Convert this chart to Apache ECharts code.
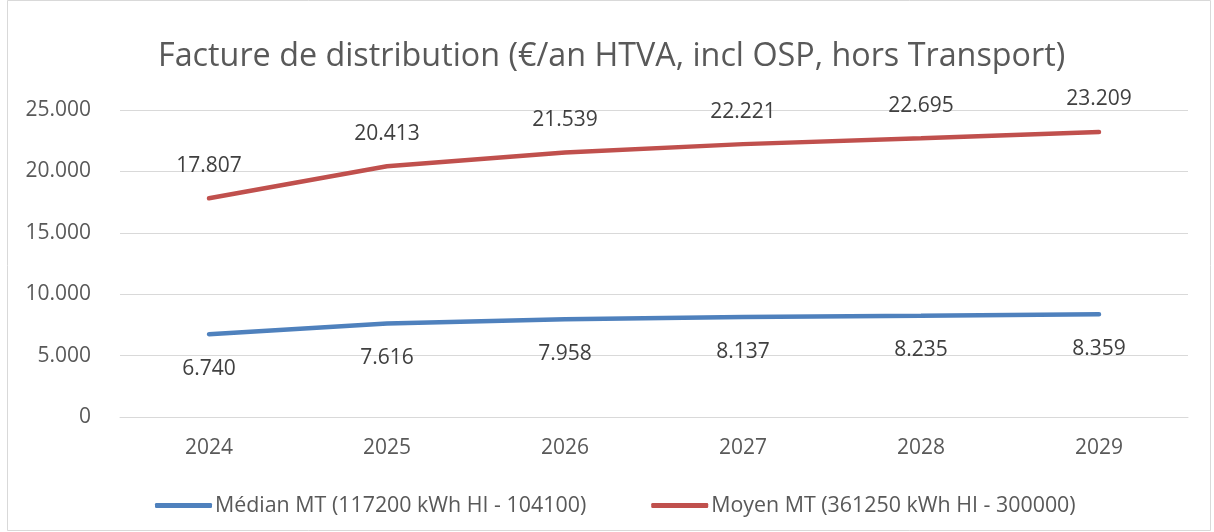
<!DOCTYPE html>
<html>
<head>
<meta charset="utf-8">
<script src="https://cdn.jsdelivr.net/npm/echarts@6/dist/echarts.min.js"></script>
<style>
html,body{margin:0;padding:0;background:#fff;}
#chart{width:1214px;height:532px;}
</style>
</head>
<body>
<div id="chart"></div>
<script>
const titleText = 'Facture de distribution (€/an HTVA, incl OSP, hors Transport)';
const categories = ['2024', '2025', '2026', '2027', '2028', '2029'];
const medianName = 'Médian MT (117200 kWh HI - 104100)';
const moyenName = 'Moyen MT (361250 kWh HI - 300000)';
const medianValues = [6740, 7616, 7958, 8137, 8235, 8359];
const moyenValues = [17807, 20413, 21539, 22221, 22695, 23209];

function fmt(v) {
  return String(Math.round(v)).replace(/\B(?=(\d{3})+(?!\d))/g, '.');
}

const FONT = '"Open Sans", "Noto Sans", sans-serif';
const chart = echarts.init(document.getElementById('chart'), null, {renderer: 'canvas'});
chart.setOption({
  backgroundColor: '#ffffff',
  animation: false,
  title: {
    text: titleText,
    left: 153,
    top: 36,
    textStyle: {fontFamily: FONT, fontSize: 32.3, fontWeight: 'normal', color: '#595959'}
  },
  graphic: [{
    type: 'rect',
    shape: {x: 7.5, y: 0.5, width: 1203, height: 530},
    style: {fill: 'none', stroke: '#d9d9d9', lineWidth: 1},
    silent: true
  }],
  grid: {left: 120, right: 26, top: 110, bottom: 115, containLabel: false},
  legend: {
    bottom: 11,
    left: 150,
    itemWidth: 57,
    itemHeight: 5,
    itemGap: 65,
    icon: 'roundRect',
    textStyle: {fontFamily: FONT, fontSize: 21.4, color: '#595959', padding: [0, 0, 0, -2]},
    data: [medianName, moyenName]
  },
  xAxis: {
    type: 'category',
    data: categories,
    boundaryGap: true,
    axisLine: {show: true, lineStyle: {color: '#d9d9d9', width: 1}},
    axisTick: {show: false},
    axisLabel: {fontFamily: FONT, fontSize: 21, color: '#595959', margin: 21}
  },
  yAxis: {
    type: 'value',
    min: 0,
    max: 25000,
    interval: 5000,
    axisLine: {show: false},
    axisTick: {show: false},
    splitLine: {lineStyle: {color: '#d9d9d9', width: 1}},
    axisLabel: {fontFamily: FONT, fontSize: 21, color: '#595959', margin: 29, formatter: fmt}
  },
  series: [
    {
      name: medianName,
      type: 'line',
      data: medianValues,
      symbol: 'circle',
      symbolSize: 0.01,
      showSymbol: true,
      lineStyle: {color: '#4f81bd', width: 4.5, cap: 'round'},
      itemStyle: {color: '#4f81bd'},
      label: {
        show: true, position: 'bottom', distance: 24,
        fontFamily: FONT, fontSize: 21, color: '#404040',
        formatter: p => fmt(p.value)
      }
    },
    {
      name: moyenName,
      type: 'line',
      data: moyenValues,
      symbol: 'circle',
      symbolSize: 0.01,
      showSymbol: true,
      lineStyle: {color: '#c0504d', width: 4.5, cap: 'round'},
      itemStyle: {color: '#c0504d'},
      label: {
        show: true, position: 'top', distance: 22,
        fontFamily: FONT, fontSize: 21, color: '#404040',
        formatter: p => fmt(p.value)
      }
    }
  ]
});
</script>
</body>
</html>
